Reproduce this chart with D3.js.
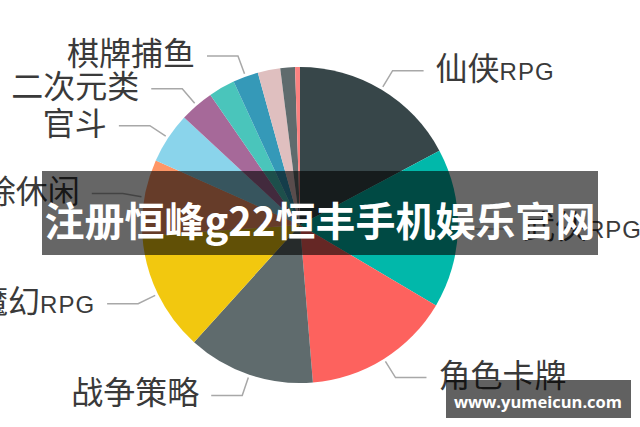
<!DOCTYPE html>
<html><head><meta charset="utf-8">
<script src="https://cdn.jsdelivr.net/npm/d3@7"></script>
<style>html,body{margin:0;padding:0;background:#fff;overflow:hidden}</style>
</head><body><svg id="c" width="640" height="427"></svg>
<script>
const categories = ["仙侠RPG","武侠RPG","角色卡牌","战争策略","魔幻RPG","消除休闲","官斗","二次元类","体育竞技","棋牌捕鱼","音乐舞蹈","模拟经营","其他"];
const values = [17.2, 16.3, 15.2, 13.0, 12.2, 7.8, 5.2, 3.5, 2.7, 2.6, 2.3, 1.5, 0.5];
const colors = ["#374649","#01B8AA","#FD625E","#5F6B6D","#F2C80F","#FE9666","#8AD4EB","#A66999","#4AC5BB","#3599B8","#DFBFBF","#5F6B6D","#FB8281"];
const labelled = ["仙侠RPG","武侠RPG","角色卡牌","战争策略","魔幻RPG","消除休闲","官斗","二次元类","棋牌捕鱼"];
const bannerText = "注册恒峰g22恒丰手机娱乐官网";
const watermarkText = "www.yumeicun.com";

const svg = d3.select("#c");
const cx = 300, cy = 225, R = 158;
const g = svg.append("g").attr("transform", `translate(${cx},${cy})`);
const data = categories.map((c, i) => ({name: c, value: values[i], color: colors[i]}));
const arcs = d3.pie().sort(null).value(d => d.value)(data);
const arc = d3.arc().innerRadius(0).outerRadius(R);
g.selectAll("path.slice").data(arcs).join("path").attr("class", "slice")
  .attr("d", arc).attr("fill", d => d.data.color);

const pt = (a, r) => [r * Math.sin(a), -r * Math.cos(a)];
arcs.filter(d => labelled.includes(d.data.name)).forEach(d => {
  const m = (d.startAngle + d.endAngle) / 2;
  const p0 = pt(m, R + 3), p1 = pt(m, R + 22);
  const right = Math.sin(m) >= 0;
  const p2 = [p1[0] + (right ? 31 : -31), p1[1]];
  g.append("polyline").attr("points", [p0, p1, p2].map(p => p.join(",")).join(" "))
    .attr("fill", "none").attr("stroke", "#a8a8a8").attr("stroke-width", 1.5);
  const t = g.append("text").attr("x", p2[0] + (right ? 12 : -12)).attr("y", p1[1] + 9)
    .attr("text-anchor", right ? "start" : "end").attr("fill", "#3a3a3a");
  const parts = d.data.name.match(/^([^A-Za-z]*)([A-Za-z]*)$/);
  t.append("tspan").text(parts[1]).style("font-family", "'Noto Sans CJK SC'").style("font-size", "32px");
  if (parts[2]) t.append("tspan").text(parts[2]).style("font-family", "'Liberation Sans'")
    .style("font-size", "24px").style("letter-spacing", "1px");
});

// overlay banner
svg.append("rect").attr("x", 42).attr("y", 171).attr("width", 556).attr("height", 84).attr("fill", "rgba(0,0,0,0.6)");
svg.append("text").attr("x", 320).attr("y", 236).attr("text-anchor", "middle")
  .style("font-family", "'Noto Sans CJK SC'").style("font-weight", "bold").style("font-size", "40px")
  .attr("fill", "#fff").text(bannerText);

// watermark
svg.append("rect").attr("x", 446).attr("y", 380).attr("width", 185).attr("height", 38).attr("fill", "rgba(0,0,0,0.62)");
svg.append("text").attr("x", 538).attr("y", 408).attr("text-anchor", "middle")
  .style("font-family", "'Open Sans'").style("font-weight", "bold").style("font-size", "16.5px")
  .attr("fill", "#fff").text(watermarkText);
</script></body></html>
